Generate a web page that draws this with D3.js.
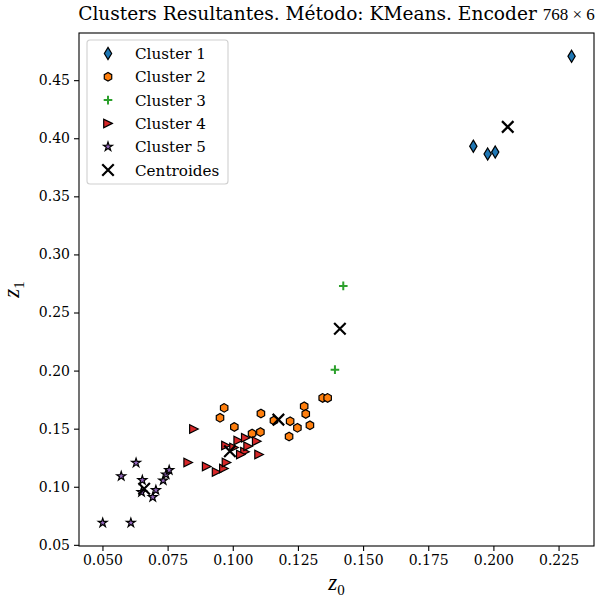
<!DOCTYPE html>
<html>
<head>
<meta charset="utf-8">
<script src="https://cdn.jsdelivr.net/npm/d3@7"></script>
<style>
  body { margin: 0; background: #fff; }
  text { font-family: "DejaVu Serif", serif; fill: #000; }
</style>
</head>
<body>
<svg width="597" height="599"></svg>
<script>
// points, [z0, z1]
const cluster1 = [[0.1923, 0.3932], [0.1978, 0.3864], [0.2007, 0.3881], [0.2300, 0.4705]]
const cluster2 = [[0.0967, 0.1679], [0.0951, 0.1593], [0.1006, 0.1515], [0.1108, 0.1630], [0.1074, 0.1458],
  [0.1106, 0.1471], [0.1158, 0.1570], [0.1220, 0.1564], [0.1248, 0.1507], [0.1216, 0.1432],
  [0.1296, 0.1529], [0.1274, 0.1692], [0.1280, 0.1627], [0.1345, 0.1765], [0.1364, 0.1765]]
const cluster3 = [[0.1424, 0.2729], [0.1392, 0.2008]]
const cluster4 = [[0.0851, 0.1497], [0.0829, 0.1209], [0.0900, 0.1174], [0.0938, 0.1127], [0.0966, 0.1157],
  [0.0976, 0.1209], [0.0974, 0.1355], [0.1021, 0.1398], [0.1050, 0.1421], [0.1092, 0.1392],
  [0.1101, 0.1277], [0.1047, 0.1301], [0.1031, 0.1277], [0.1059, 0.1349], [0.1005, 0.1338]]
const cluster5 = [[0.0501, 0.0690], [0.0572, 0.1091], [0.0609, 0.0690], [0.0629, 0.1206], [0.0653, 0.1057],
  [0.0650, 0.0954], [0.0693, 0.0911], [0.0705, 0.0971], [0.0733, 0.1054], [0.0744, 0.1106], [0.0756, 0.1143]]
const centroids = [[0.2055, 0.4098], [0.1175, 0.1578], [0.1411, 0.2360], [0.0989, 0.1306], [0.0660, 0.0983]]
const legendLabels = ['Cluster 1', 'Cluster 2', 'Cluster 3', 'Cluster 4', 'Cluster 5', 'Centroides']
const xTicks = [0.050, 0.075, 0.100, 0.125, 0.150, 0.175, 0.200, 0.225]
const yTicks = [0.05, 0.10, 0.15, 0.20, 0.25, 0.30, 0.35, 0.40, 0.45]

const W = 597, H = 599
const m = {left: 79, right: 3, top: 33, bottom: 53}
const iw = W - m.left - m.right, ih = H - m.top - m.bottom

const xs = d3.scaleLinear().domain([0.0410, 0.2386]).range([0, iw])
const ys = d3.scaleLinear().domain([0.0490, 0.4906]).range([ih, 0])

const svg = d3.select('svg')
const g = svg.append('g').attr('transform', `translate(${m.left},${m.top})`)

// marker shapes, sz = marker size in px
const S = 8.6
function diamond(sz) { const h = sz * 0.7071, w = h * 0.6; return `M0,${-h}L${w},0L0,${h}L${-w},0Z` }
function hexagon(sz) {
  const r = sz / 2
  return d3.range(6).map(function(k) { const a = (90 + 60 * k) * Math.PI / 180; return (k ? 'L' : 'M') + (r * Math.cos(a)).toFixed(2) + ',' + (-r * Math.sin(a)).toFixed(2) }).join('') + 'Z'
}
function triRight(sz) { const r = sz / 2; return `M${r},0L${-r},${-r}L${-r},${r}Z` }
function star(sz) {
  const ro = sz / 2, ri = ro * 0.381966
  return d3.range(10).map(function(k) { const rr = k % 2 ? ri : ro, a = (90 + 36 * k) * Math.PI / 180; return (k ? 'L' : 'M') + (rr * Math.cos(a)).toFixed(2) + ',' + (-rr * Math.sin(a)).toFixed(2) }).join('') + 'Z'
}
function plus(sz) { const r = sz / 2; return `M${-r},0L${r},0M0,${-r}L0,${r}` }
function cross(sz) { const r = sz / 2; return `M${-r},${-r}L${r},${r}M${-r},${r}L${r},${-r}` }

const series = [
  {data: cluster1, path: diamond(S), fill: '#1f77b4', stroke: '#000', sw: 1.2},
  {data: cluster2, path: hexagon(S), fill: '#ff7f0e', stroke: '#000', sw: 1.2},
  {data: cluster3, path: plus(S), fill: 'none', stroke: '#2ca02c', sw: 2},
  {data: cluster4, path: triRight(S), fill: '#d62728', stroke: '#000', sw: 1.2},
  {data: cluster5, path: star(S + 0.8), fill: '#9467bd', stroke: '#000', sw: 1.2},
  {data: centroids, path: cross(11.5), fill: 'none', stroke: '#000', sw: 2.2}
]

// axes
g.append('g').attr('transform', `translate(0,${ih})`)
  .call(d3.axisBottom(xs).tickValues(xTicks).tickFormat(d3.format('.3f')).tickSize(5).tickPadding(4))
g.append('g')
  .call(d3.axisLeft(ys).tickValues(yTicks).tickFormat(d3.format('.2f')).tickSize(5).tickPadding(4))
g.selectAll('.tick line').attr('stroke', '#000').attr('stroke-width', 1.1)
g.selectAll('.tick text').style('font-family', '"DejaVu Serif", serif').style('font-size', '14px')
g.selectAll('.domain').remove()
g.append('rect').attr('width', iw).attr('height', ih).attr('fill', 'none').attr('stroke', '#000').attr('stroke-width', 1.1)

// points
series.forEach(function(s) {
  g.append('g').selectAll('path').data(s.data).enter().append('path')
    .attr('d', s.path)
    .attr('transform', function(d) { return `translate(${xs(d[0])},${ys(d[1])})` })
    .attr('fill', s.fill)
    .attr('stroke', s.stroke)
    .attr('stroke-width', s.sw)
})

// legend
const lg = g.append('g').attr('transform', 'translate(8,7)')
lg.append('rect').attr('width', 141).attr('height', 144).attr('rx', 3)
  .attr('fill', '#fff').attr('fill-opacity', 0.8).attr('stroke', '#d0d0d0').attr('stroke-width', 1.1)
legendLabels.forEach(function(lab, i) {
  const row = lg.append('g').attr('transform', `translate(0,${13.5 + i * 23.3})`)
  const s = series[i]
  row.append('path').attr('d', s.path).attr('transform', 'translate(21,0)')
    .attr('fill', s.fill).attr('stroke', s.stroke).attr('stroke-width', s.sw)
  row.append('text').attr('x', 48).attr('y', 5.5).style('font-size', '15.2px').text(lab)
})

// title and axis labels
const title = svg.append('text').attr('x', m.left + iw / 2).attr('y', 20)
  .attr('text-anchor', 'middle').style('font-size', '18.6px')
title.append('tspan').text('Clusters Resultantes. Método: KMeans. Encoder ')
title.append('tspan').style('font-family', '"Liberation Serif", serif').style('font-size', '17px').text('768 × 6')

const xl = svg.append('text').attr('x', m.left + iw / 2).attr('y', 590).attr('text-anchor', 'middle')
  .style('font-family', '"Liberation Serif", serif').style('font-style', 'italic').style('font-size', '23px')
xl.append('tspan').text('z')
xl.append('tspan').attr('dy', 5).style('font-size', '15px').style('font-style', 'normal').text('0')

const yl = svg.append('text').attr('transform', `translate(19,${m.top + ih / 2}) rotate(-90)`).attr('text-anchor', 'middle')
  .style('font-family', '"Liberation Serif", serif').style('font-style', 'italic').style('font-size', '23px')
yl.append('tspan').text('z')
yl.append('tspan').attr('dy', 5).style('font-size', '15px').style('font-style', 'normal').text('1')
</script>
</body>
</html>
